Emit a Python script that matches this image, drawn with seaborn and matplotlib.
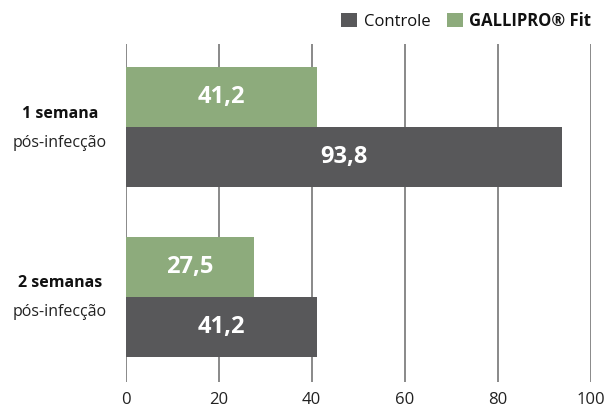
import matplotlib
matplotlib.use("Agg")
import matplotlib.pyplot as plt
import seaborn as sns
import pandas as pd
from matplotlib.transforms import blended_transform_factory

periods = ["1 semana", "2 semanas"]
period_sub = ["pós-infecção", "pós-infecção"]
series = ["GALLIPRO® Fit", "Controle"]
gallipro = [41.2, 27.5]
controle = [93.8, 41.2]
xticks = [0, 20, 40, 60, 80, 100]

colors = {"GALLIPRO® Fit": "#8dab7c", "Controle": "#58585a"}

df = pd.DataFrame({
    "period": periods * 2,
    "series": [series[0]] * 2 + [series[1]] * 2,
    "value": gallipro + controle,
})

sns.set_theme(style="white")
plt.rcParams["font.family"] = ["Open Sans", "DejaVu Sans"]

fig = plt.figure(figsize=(6.07, 4.08), dpi=100)
ax = fig.add_axes([125.5 / 607, (408 - 382) / 408, (591 - 125.5) / 607, (382 - 44) / 408])

sns.barplot(data=df, y="period", x="value", hue="series", order=periods,
            hue_order=series, palette=colors, orient="h", width=0.704,
            ax=ax, saturation=1, edgecolor="none", linewidth=0, zorder=3)

ax.set_xlim(0, 100)
ax.set_ylim(1.5, -0.49)
ax.set_xticks(xticks)
ax.set_xticklabels([str(t) for t in xticks], fontsize=12, color="#222222")
ax.tick_params(axis="x", length=0, pad=7)
ax.set_yticks([])
ax.set_xlabel("")
ax.set_ylabel("")
for s in ax.spines.values():
    s.set_visible(False)
ax.grid(axis="x", color="#808080", linewidth=1.3, zorder=0)
ax.grid(axis="y", visible=False)

# bar value labels
for container in ax.containers:
    labels = [f"{v:.1f}".replace(".", ",") for v in container.datavalues]
    ax.bar_label(container, labels=labels, label_type="center", color="white",
                 fontsize=17, fontweight="bold")

# category labels
trans = blended_transform_factory(fig.transFigure, ax.transData)
for i, (p, sub) in enumerate(zip(periods, period_sub)):
    ax.text(60 / 607, i - 0.08, p, transform=trans, ha="center", va="center",
            fontsize=11.5, fontweight="bold", color="#111111")
    ax.text(60 / 607, i + 0.09, sub, transform=trans, ha="center", va="center",
            fontsize=11.5, color="#222222")

# legend
handles, labels = ax.get_legend_handles_labels()
ax.get_legend().remove()
order = [1, 0]
leg = fig.legend([handles[i] for i in order], [labels[i] for i in order],
                 loc="upper right", bbox_to_anchor=(603 / 607, 1.0), ncol=2,
                 frameon=False, fontsize=12, handlelength=0.95, handleheight=0.95,
                 handletextpad=0.4, columnspacing=1.0, borderaxespad=0.3)
for t in leg.get_texts():
    if "GALLIPRO" in t.get_text():
        t.set_fontweight("bold")
    t.set_color("#111111")

fig.savefig("out.png", dpi=100)
